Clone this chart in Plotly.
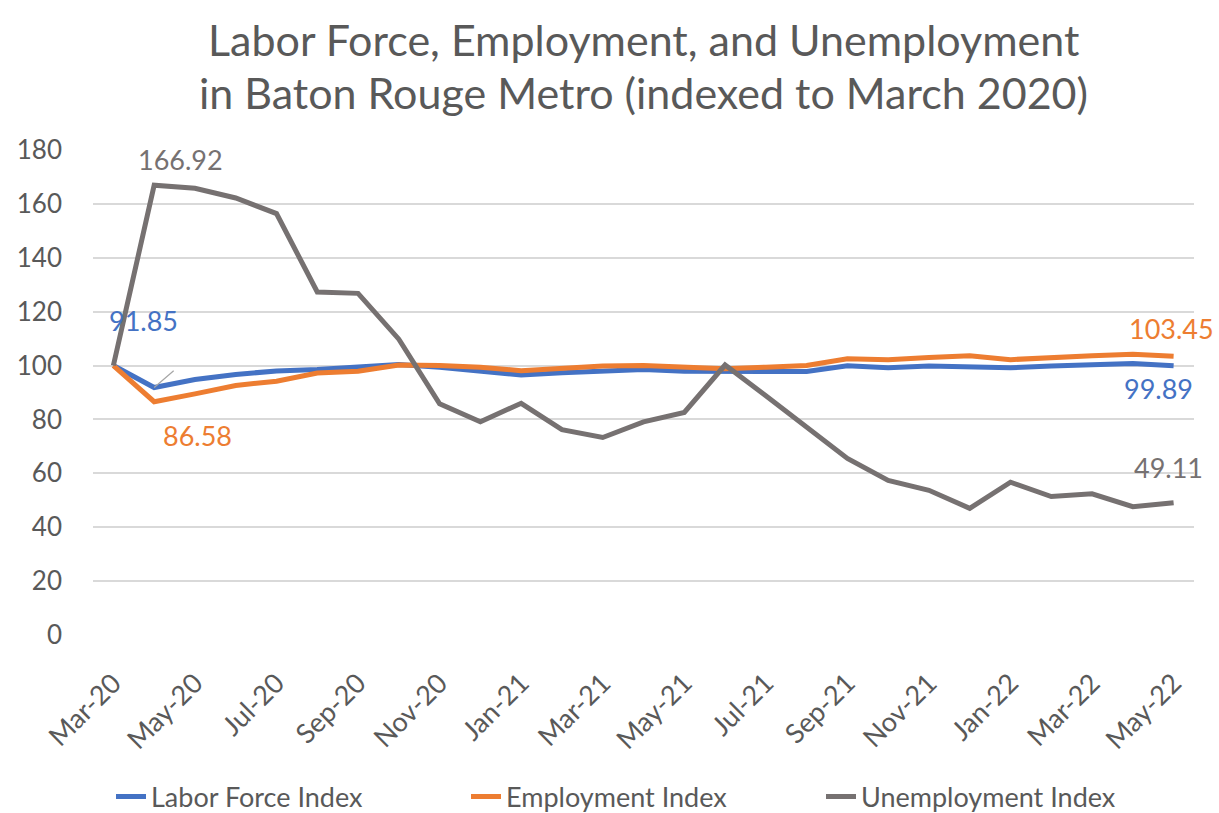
import plotly.graph_objects as go

months = ["Mar-20", "Apr-20", "May-20", "Jun-20", "Jul-20", "Aug-20", "Sep-20", "Oct-20", "Nov-20",
          "Dec-20", "Jan-21", "Feb-21", "Mar-21", "Apr-21", "May-21", "Jun-21", "Jul-21", "Aug-21",
          "Sep-21", "Oct-21", "Nov-21", "Dec-21", "Jan-22", "Feb-22", "Mar-22", "Apr-22", "May-22"]

labor_force = [100, 91.85, 94.8, 96.7, 98.0, 98.5, 99.5, 100.4, 99.4,
               97.8, 96.5, 97.3, 97.9, 98.5, 97.9, 97.8, 98.1, 97.8,
               99.9, 99.2, 99.8, 99.4, 99.2, 99.8, 100.4, 100.8, 99.89]

employment = [100, 86.58, 89.5, 92.6, 94.2, 97.2, 97.9, 100.2, 100.0,
              99.4, 98.1, 98.8, 99.8, 100.0, 99.6, 98.8, 99.4, 100.0,
              102.5, 102.2, 103.0, 103.6, 102.2, 103.1, 103.6, 104.2, 103.45]

unemployment = [100, 166.92, 165.8, 162.2, 156.4, 127.3, 126.8, 109.8, 85.8,
                79.1, 86.0, 76.2, 73.3, 79.1, 82.6, 100.2, 88.8, 77.0,
                65.5, 57.4, 53.7, 47.0, 56.7, 51.4, 52.4, 47.6, 49.11]

tick_labels = months[::2]

title_lines = ["Labor Force, Employment, and Unemployment",
               "in Baton Rouge Metro (indexed to March 2020)"]

series = [
    ("Labor Force Index", labor_force, "#4472C4"),
    ("Employment Index", employment, "#ED7D31"),
    ("Unemployment Index", unemployment, "#767171"),
]

FONT = "Lato, 'Open Sans', sans-serif"
TXT = "#595959"

W, H = 1219, 813
ML, MR, MT, MB = 93, 25, 150, 178
PLOT_H = H - MT - MB


def paper_y(py):
    return (H - MB - py) / PLOT_H


fig = go.Figure()
for name, vals, color in series:
    fig.add_trace(go.Scatter(
        x=list(range(len(months))), y=vals, name=name, mode="lines",
        line=dict(color=color, width=5),
    ))

# data labels (xshift, yshift in px; yshift positive = up)
labels = [
    (1, unemployment[1], f"{unemployment[1]:.2f}", "#767171", 26, 26),
    (1, labor_force[1], f"{labor_force[1]:.2f}", "#4472C4", -11, 67),
    (1, employment[1], f"{employment[1]:.2f}", "#ED7D31", 43, -34),
    (26, employment[26], f"{employment[26]:.2f}", "#ED7D31", -2, 28),
    (26, labor_force[26], f"{labor_force[26]:.2f}", "#4472C4", -15, -23),
    (26, unemployment[26], f"{unemployment[26]:.2f}", "#767171", -5, 35),
]
for xi, yv, txt, col, ax, ay in labels:
    fig.add_annotation(x=xi, y=yv, xref="x", yref="y", text=txt,
                       showarrow=False, xshift=ax, yshift=ay,
                       font=dict(family=FONT, size=27, color=col))

# leader line for 91.85
fig.add_annotation(x=1, y=labor_force[1], xref="x", yref="y", text="",
                   showarrow=True, arrowhead=0, arrowwidth=1.2, arrowcolor="#A6A6A6",
                   ax=21, ay=-18)

# title (two centred lines)
for line, py in zip(title_lines, [40, 92]):
    fig.add_annotation(x=0.5, xref="paper", xanchor="center",
                       y=paper_y(py), yref="paper", yanchor="middle",
                       text=line, showarrow=False,
                       font=dict(family=FONT, size=43, color=TXT))

fig.update_layout(
    width=W, height=H,
    paper_bgcolor="white", plot_bgcolor="white",
    margin=dict(l=ML, r=MR, t=MT, b=MB, autoexpand=False),
    font=dict(family=FONT, color=TXT),
    xaxis=dict(
        range=[-0.5, len(months) - 0.5],
        tickmode="array",
        tickvals=list(range(0, len(months), 2)),
        ticktext=tick_labels,
        tickangle=-45,
        tickfont=dict(family=FONT, size=27, color=TXT),
        showgrid=False, zeroline=False, showline=False, ticks="",
        ticklabelstandoff=26,
        automargin=False,
    ),
    yaxis=dict(
        range=[0, 180], dtick=20,
        tickfont=dict(family=FONT, size=26, color=TXT),
        gridcolor="#D9D9D9", gridwidth=1.5,
        zeroline=False, showline=False, ticks="", ticklabelstandoff=30,
        automargin=False,
    ),
    legend=dict(
        orientation="h", x=0.5, xanchor="center",
        y=paper_y(797), yanchor="middle",
        font=dict(family=FONT, size=27, color=TXT),
        entrywidth=310,
    ),
)

fig.write_html("out.html", config={"displayModeBar": False},
               post_script="document.body.style.margin='0';")
